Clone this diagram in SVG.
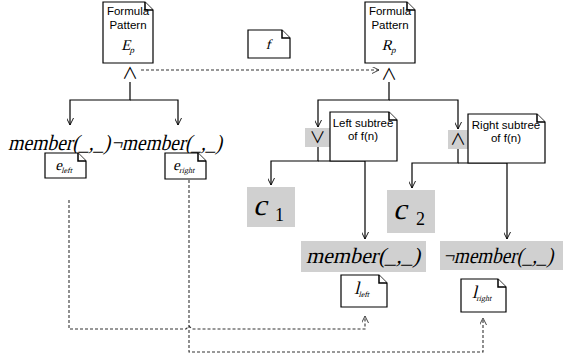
<svg xmlns="http://www.w3.org/2000/svg" width="563" height="362" viewBox="0 0 563 362">
<style>
.note{fill:#fff;stroke:#000;stroke-width:1.2}
.fold{fill:#fff;stroke:#000;stroke-width:1.5;stroke-linejoin:miter}
.gray{fill:#d0d0d0;stroke:none}
.lbl{font-family:"Liberation Sans",Arial,sans-serif;font-size:11.5px;fill:#000;text-anchor:middle}
.m{font-family:"Liberation Serif","Times New Roman",serif;font-style:normal;fill:#000}
.sym{font-family:"Noto Sans CJK SC","DejaVu Sans",sans-serif;font-size:16px;fill:#000;text-anchor:middle}
.edge{fill:none;stroke:#000;stroke-width:1.2}
.dash{fill:none;stroke:#333;stroke-width:1.1;stroke-dasharray:3,2}
</style>
<defs>
<marker id="arr" viewBox="0 0 10 10" refX="10" refY="5" markerWidth="7" markerHeight="7" orient="auto" markerUnits="userSpaceOnUse"><path d="M0,0 L10,5 L0,10" fill="none" stroke="#000" stroke-width="1.3"/></marker>
<marker id="darr" viewBox="0 0 10 10" refX="10" refY="5" markerWidth="7" markerHeight="7" orient="auto" markerUnits="userSpaceOnUse"><path d="M0,0 L10,5 L0,10" fill="none" stroke="#333" stroke-width="1.3"/></marker>
</defs>

<g id="connectors">
<path class="dash" d="M141,70 H379" marker-end="url(#darr)"/>
<path class="edge" d="M130,82 V100 H70 V125" marker-end="url(#arr)"/>
<path class="edge" d="M130,100 H178 V125" marker-end="url(#arr)"/>
<path class="edge" d="M389,82 V100 H318 V127" marker-end="url(#arr)"/>
<path class="edge" d="M389,100 H458 V129" marker-end="url(#arr)"/>
<path class="edge" d="M318,147 V161 H271 V185" marker-end="url(#arr)"/>
<path class="edge" d="M318,161 H365 V239" marker-end="url(#arr)"/>
<path class="edge" d="M458,149 V163 H412 V188" marker-end="url(#arr)"/>
<path class="edge" d="M458,163 H507 V239" marker-end="url(#arr)"/>
<path class="dash" d="M69,200 V329 H186 L189,326 L192,329 H365 V316" marker-end="url(#darr)"/>
<path class="dash" d="M189,180 V352 H483 V318" marker-end="url(#darr)"/>
</g>

<g id="formula-pattern-E">
<path class="note" d="M103,2 H145 L153,10 V63 H103 Z"/>
<path class="fold" d="M145,2 V10 H153"/>
<text class="lbl" x="128" y="15">Formula</text>
<text class="lbl" x="128" y="29">Pattern</text>
<text class="m" transform="translate(128,50) skewX(-14)" font-size="15" text-anchor="middle">E<tspan font-size="9" dy="3">p</tspan></text>
<text class="sym" x="130" y="79">∧</text>
</g>

<g id="f-note">
<path class="note" d="M248,30 H282 L290,38 V58 H248 Z"/>
<path class="fold" d="M282,30 V38 H290"/>
<text class="m" transform="translate(268,49) skewX(-14)" font-size="14" text-anchor="middle">f</text>
</g>

<g id="formula-pattern-R">
<path class="note" d="M365,2 H407 L415,10 V63 H365 Z"/>
<path class="fold" d="M407,2 V10 H415"/>
<text class="lbl" x="390" y="15">Formula</text>
<text class="lbl" x="390" y="29">Pattern</text>
<text class="m" transform="translate(389,50) skewX(-14)" font-size="15" text-anchor="middle">R<tspan font-size="9" dy="3">p</tspan></text>
<text class="sym" x="389" y="80">∧</text>
</g>

<g id="member-left">
<text class="m" transform="translate(8,150) skewX(-14)" font-size="22" textLength="102" lengthAdjust="spacingAndGlyphs">member(_,_)</text>
</g>
<g id="not-member-left">
<text class="m" transform="translate(111,150) skewX(-14)" font-size="22" textLength="111" lengthAdjust="spacingAndGlyphs">¬member(_,_)</text>
</g>

<g id="e-left">
<path class="note" d="M45,153 H78 L86,161 V178 H45 Z"/>
<path class="fold" d="M78,153 V161 H86"/>
<text class="m" transform="translate(64,170) skewX(-14)" font-size="15" text-anchor="middle">e<tspan font-size="8" dy="3">left</tspan></text>
</g>
<g id="e-right">
<path class="note" d="M165,153 H198 L206,161 V179 H165 Z"/>
<path class="fold" d="M198,153 V161 H206"/>
<text class="m" transform="translate(184,170) skewX(-14)" font-size="15" text-anchor="middle">e<tspan font-size="8" dy="3">right</tspan></text>
</g>

<g id="or-node">
<rect class="gray" x="305" y="128" width="25" height="19"/>
<text class="sym" x="317.5" y="143">∨</text>
</g>
<g id="left-subtree-note">
<path class="note" d="M330,112 H389 L397,120 V161 H330 Z"/>
<path class="fold" d="M389,112 V120 H397"/>
<text class="lbl" x="363" y="127">Left subtree</text>
<text class="lbl" x="363" y="140">of f(n)</text>
</g>

<g id="and-node">
<rect class="gray" x="448" y="130" width="20" height="19"/>
<text class="sym" x="458" y="145">∧</text>
</g>
<g id="right-subtree-note">
<path class="note" d="M468,114 H537 L545,122 V163 H468 Z"/>
<path class="fold" d="M537,114 V122 H545"/>
<text class="lbl" x="506" y="129">Right subtree</text>
<text class="lbl" x="506" y="142">of f(n)</text>
</g>

<g id="c1">
<rect class="gray" x="247" y="187" width="48" height="40"/>
<text class="m" transform="translate(253,215) skewX(-14)" font-size="30">c</text>
<text class="m" x="275" y="221" font-size="18">1</text>
</g>
<g id="c2">
<rect class="gray" x="387" y="190" width="48" height="43"/>
<text class="m" transform="translate(393,219) skewX(-14)" font-size="30">c</text>
<text class="m" x="416" y="225" font-size="18">2</text>
</g>

<g id="member-right">
<rect class="gray" x="301" y="241" width="125" height="31"/>
<text class="m" transform="translate(306,263) skewX(-14)" font-size="22" textLength="114" lengthAdjust="spacingAndGlyphs">member(_,_)</text>
</g>
<g id="not-member-right">
<rect class="gray" x="440" y="241" width="123" height="29"/>
<text class="m" transform="translate(443,263) skewX(-14)" font-size="22" textLength="110" lengthAdjust="spacingAndGlyphs">¬member(_,_)</text>
</g>

<g id="l-left">
<path class="note" d="M341,275 H379 L387,283 V307 H341 Z"/>
<path class="fold" d="M379,275 V283 H387"/>
<text class="m" transform="translate(362,294) skewX(-14)" font-size="18" text-anchor="middle">l<tspan font-size="8" dy="3">left</tspan></text>
</g>
<g id="l-right">
<path class="note" d="M461,279 H498 L506,287 V312 H461 Z"/>
<path class="fold" d="M498,279 V287 H506"/>
<text class="m" transform="translate(482,298) skewX(-14)" font-size="18" text-anchor="middle">l<tspan font-size="8" dy="3">right</tspan></text>
</g>
</svg>
